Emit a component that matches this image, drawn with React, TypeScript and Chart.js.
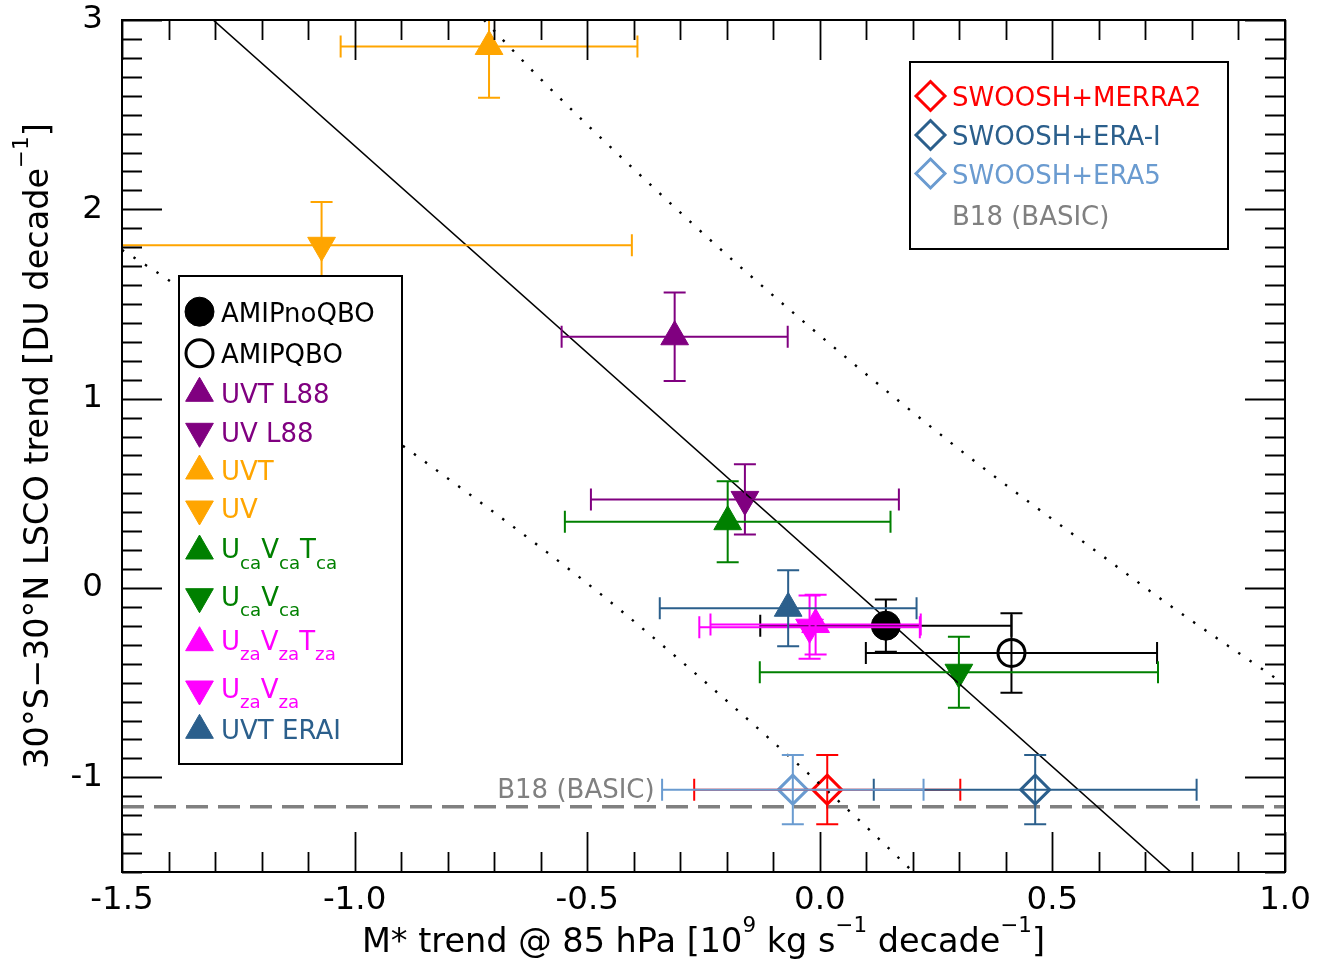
import React, { useEffect, useRef } from 'react';
import { Chart, registerables } from 'chart.js';

Chart.register(...registerables);

const FONT = "'DejaVu Sans', sans-serif";

// ---------------- data ----------------
const seriesNames = [
  'AMIPnoQBO', 'AMIPQBO', 'UVT L88', 'UV L88', 'UVT', 'UV',
  'U_{ca}V_{ca}T_{ca}', 'U_{ca}V_{ca}', 'U_{za}V_{za}T_{za}', 'U_{za}V_{za}', 'UVT ERAI',
  'SWOOSH+MERRA2', 'SWOOSH+ERA-I', 'SWOOSH+ERA5',
];
const xValues = [0.142, 0.412, -0.312, -0.161, -0.711, -1.071, -0.198, 0.299, -0.009, -0.022, -0.068, 0.016, 0.463, -0.058];
const yValues = [-0.199, -0.343, 1.327, 0.468, 2.86, 1.81, 0.35, -0.445, -0.193, -0.207, -0.107, -1.065, -1.065, -1.065];
const xErrors = [0.27, 0.313, 0.243, 0.331, 0.319, 0.667, 0.35, 0.428, 0.226, 0.237, 0.276, 0.286, 0.347, 0.281];
const yErrors = [0.138, 0.21, 0.234, 0.186, 0.27, 0.229, 0.214, 0.188, 0.158, 0.167, 0.201, 0.183, 0.183, 0.183];
const seriesColors = [
  '#000000', '#000000', '#800080', '#800080', '#FFA500', '#FFA500', '#008000', '#008000',
  '#FF00FF', '#FF00FF', '#2B5F8C', '#FF0000', '#2B5F8C', '#6A9BD0',
];
const seriesMarkers = ['filled', 'open', 'up', 'down', 'up', 'down', 'up', 'down', 'up', 'down', 'up', 'diamond', 'diamond', 'diamond'];

// regression line and its dotted confidence curves
const fitX = [-1.304, 0.7545];
const fitY = [3.0, -1.5];
const upperX = [-0.722, -0.596, -0.4, -0.156, 0.286, 0.631, 0.745, 0.985, 1.0];
const upperY = [3.0, 2.678, 2.213, 1.664, 0.759, 0.127, -0.079, -0.485, -0.51];
const lowerX = [-1.5, -1.404, -1.2, -0.899, -0.5875, -0.43, -0.1255, 0.193, 0.2];
const lowerY = [1.786, 1.633, 1.28, 0.756, 0.191, -0.114, -0.758, -1.482, -1.5];

// B18 (BASIC) reference level
const b18Label = 'B18 (BASIC)';
const b18X = [-1.5, 1.0];
const b18Y = [-1.156, -1.156];

const xTickValues = [-1.5, -1.0, -0.5, 0.0, 0.5, 1.0];
const xTickLabels = ['-1.5', '-1.0', '-0.5', '0.0', '0.5', '1.0'];
const yTickValues = [-1, 0, 1, 2, 3];
const yTickLabels = ['-1', '0', '1', '2', '3'];

const xTitle = 'M* trend @ 85 hPa [10^{9} kg s^{\u22121} decade^{\u22121}]';
const yTitle = '30\u00B0S\u221230\u00B0N LSCO trend [DU decade^{\u22121}]';

const legend1Series = [0, 1, 2, 3, 4, 5, 6, 7, 8, 9, 10];
const legend2Series = [11, 12, 13];
const b18Color = '#808080';

// ---------------- helpers ----------------
type Seg = { t: string; k: 'n' | 'sub' | 'sup' };
function parseRich(s: string): Seg[] {
  const out: Seg[] = [];
  const re = /([_^])\{([^}]*)\}/g;
  let last = 0;
  let m: RegExpExecArray | null;
  while ((m = re.exec(s))) {
    if (m.index > last) out.push({ t: s.slice(last, m.index), k: 'n' });
    out.push({ t: m[2], k: m[1] === '_' ? 'sub' : 'sup' });
    last = re.lastIndex;
  }
  if (last < s.length) out.push({ t: s.slice(last), k: 'n' });
  return out;
}
function segFont(k: string, size: number) {
  const s = k === 'n' ? size : k === 'sub' ? size * 0.7 : size * 0.64;
  return `${s}px ${FONT}`;
}
function segOffset(k: string, size: number) {
  return k === 'n' ? 0 : k === 'sub' ? size * 0.4 : -size * 0.6;
}
function richWidth(ctx: CanvasRenderingContext2D, segs: Seg[], size: number) {
  let w = 0;
  for (const s of segs) {
    ctx.font = segFont(s.k, size);
    w += ctx.measureText(s.t).width;
  }
  return w;
}
function drawRich(ctx: CanvasRenderingContext2D, text: string, x: number, y: number, size: number, color: string, align: 'left' | 'center' | 'right') {
  const segs = parseRich(text);
  const w = richWidth(ctx, segs, size);
  let cx = align === 'left' ? x : align === 'center' ? x - w / 2 : x - w;
  ctx.fillStyle = color;
  ctx.textAlign = 'left';
  ctx.textBaseline = 'alphabetic';
  for (const s of segs) {
    ctx.font = segFont(s.k, size);
    ctx.fillText(s.t, cx, y + segOffset(s.k, size));
    cx += ctx.measureText(s.t).width;
  }
}
function drawMarker(ctx: CanvasRenderingContext2D, kind: string, x: number, y: number, color: string) {
  ctx.save();
  ctx.fillStyle = color;
  ctx.strokeStyle = color;
  ctx.beginPath();
  if (kind === 'filled') {
    ctx.lineWidth = 1;
    ctx.arc(x, y, 14.5, 0, Math.PI * 2);
    ctx.fill();
    ctx.stroke();
  } else if (kind === 'open') {
    ctx.lineWidth = 3;
    ctx.arc(x, y, 13.5, 0, Math.PI * 2);
    ctx.stroke();
  } else if (kind === 'up' || kind === 'down') {
    const r = 16;
    const s = kind === 'up' ? 1 : -1;
    ctx.lineWidth = 1;
    ctx.moveTo(x, y - s * r);
    ctx.lineTo(x + 0.866 * r, y + s * 0.5 * r);
    ctx.lineTo(x - 0.866 * r, y + s * 0.5 * r);
    ctx.closePath();
    ctx.fill();
    ctx.stroke();
  } else {
    const r = 14.5;
    ctx.lineWidth = 3;
    ctx.moveTo(x - r, y);
    ctx.lineTo(x, y - r);
    ctx.lineTo(x + r, y);
    ctx.lineTo(x, y + r);
    ctx.closePath();
    ctx.stroke();
  }
  ctx.restore();
}

// ---------------- plugin ----------------
const overlay = {
  id: 'overlay',
  afterDatasetsDraw(chart: any) {
    const { ctx, chartArea: a, scales } = chart;
    const xs = scales.x;
    const ys = scales.y;
    // error bars
    ctx.save();
    ctx.beginPath();
    ctx.rect(a.left, a.top, a.right - a.left, a.bottom - a.top);
    ctx.clip();
    ctx.lineWidth = 2;
    const cap = 11;
    for (let i = 0; i < seriesNames.length; i++) {
      const px = xs.getPixelForValue(xValues[i]);
      const py = ys.getPixelForValue(yValues[i]);
      const x0 = xs.getPixelForValue(xValues[i] - xErrors[i]);
      const x1 = xs.getPixelForValue(xValues[i] + xErrors[i]);
      const y0 = ys.getPixelForValue(yValues[i] + yErrors[i]);
      const y1 = ys.getPixelForValue(yValues[i] - yErrors[i]);
      ctx.strokeStyle = seriesColors[i];
      ctx.beginPath();
      ctx.moveTo(x0, py); ctx.lineTo(x1, py);
      ctx.moveTo(x0, py - cap); ctx.lineTo(x0, py + cap);
      ctx.moveTo(x1, py - cap); ctx.lineTo(x1, py + cap);
      ctx.moveTo(px, y0); ctx.lineTo(px, y1);
      ctx.moveTo(px - cap, y0); ctx.lineTo(px + cap, y0);
      ctx.moveTo(px - cap, y1); ctx.lineTo(px + cap, y1);
      ctx.stroke();
    }
    ctx.restore();

    // B18 label in plot
    drawRich(ctx, b18Label, xs.getPixelForValue(-0.355), ys.getPixelForValue(b18Y[0]) - 9, 26, b18Color, 'right');

    // legend 1
    ctx.save();
    ctx.fillStyle = '#ffffff';
    ctx.fillRect(179, 276, 223, 488);
    ctx.strokeStyle = '#000';
    ctx.lineWidth = 2;
    ctx.strokeRect(179, 276, 223, 488);
    ctx.restore();
    const l1y = [311.7, 353.3, 393.3, 431.3, 471, 509, 551, 596.7, 642.7, 689, 730.3];
    const l1b = [321.7, 362.7, 403.3, 441.7, 480, 518.3, 558.3, 606, 650, 698, 739.3];
    legend1Series.forEach((si, k) => {
      drawMarker(ctx, seriesMarkers[si], 199.5, l1y[k], seriesColors[si]);
      drawRich(ctx, seriesNames[si], 221, l1b[k], 26, seriesColors[si], 'left');
    });

    // legend 2
    ctx.save();
    ctx.fillStyle = '#ffffff';
    ctx.fillRect(910, 62, 318, 187);
    ctx.strokeStyle = '#000';
    ctx.lineWidth = 2;
    ctx.strokeRect(910, 62, 318, 187);
    ctx.restore();
    const l2y = [96, 135, 173.5];
    const l2b = [106, 144.5, 183.5];
    legend2Series.forEach((si, k) => {
      drawMarker(ctx, seriesMarkers[si], 930.5, l2y[k], seriesColors[si]);
      drawRich(ctx, seriesNames[si], 952, l2b[k], 26, seriesColors[si], 'left');
    });
    drawRich(ctx, b18Label, 952, 225, 26, b18Color, 'left');
  },
  afterDraw(chart: any) {
    const { ctx, chartArea: a, scales } = chart;
    const xs = scales.x;
    const ys = scales.y;
    ctx.save();
    ctx.strokeStyle = '#000';
    ctx.lineWidth = 2;
    ctx.strokeRect(a.left, a.top, a.right - a.left, a.bottom - a.top);
    ctx.lineWidth = 1.8;
    ctx.beginPath();
    for (let k = 0; k <= 25; k++) {
      const v = xs.min + k * 0.1;
      const px = Math.round(xs.getPixelForValue(v)) + 0.5;
      const L = k % 5 === 0 ? 40 : 20;
      ctx.moveTo(px, a.bottom); ctx.lineTo(px, a.bottom - L);
      ctx.moveTo(px, a.top); ctx.lineTo(px, a.top + L);
    }
    for (let k = 0; k <= 45; k++) {
      const v = ys.min + k * 0.1;
      const py = Math.round(ys.getPixelForValue(v)) + 0.5;
      const L = (k - 5) % 10 === 0 ? 40 : 20;
      ctx.moveTo(a.left, py); ctx.lineTo(a.left + L, py);
      ctx.moveTo(a.right, py); ctx.lineTo(a.right - L, py);
    }
    ctx.stroke();
    ctx.restore();

    // axis titles
    drawRich(ctx, xTitle, (a.left + a.right) / 2, 952, 33.5, '#000', 'center');
    ctx.save();
    ctx.translate(48, (a.top + a.bottom) / 2);
    ctx.rotate(-Math.PI / 2);
    drawRich(ctx, yTitle, 0, 0, 33.5, '#000', 'center');
    ctx.restore();
  },
};

// ---------------- datasets ----------------
function markerDataset(i: number) {
  const c = seriesColors[i];
  const m = seriesMarkers[i];
  const base: any = {
    label: seriesNames[i],
    data: [{ x: xValues[i], y: yValues[i] }],
    showLine: false,
    order: 2,
  };
  if (m === 'filled') return { ...base, pointStyle: 'circle', pointRadius: 14.5, backgroundColor: c, borderColor: c, borderWidth: 1 };
  if (m === 'open') return { ...base, pointStyle: 'circle', pointRadius: 13.5, backgroundColor: 'rgba(0,0,0,0)', borderColor: c, borderWidth: 3 };
  if (m === 'up') return { ...base, pointStyle: 'triangle', pointRadius: 16, backgroundColor: c, borderColor: c, borderWidth: 1 };
  if (m === 'down') return { ...base, pointStyle: 'triangle', rotation: 180, pointRadius: 16, backgroundColor: c, borderColor: c, borderWidth: 1 };
  return { ...base, pointStyle: 'rectRot', pointRadius: 14.5, backgroundColor: 'rgba(0,0,0,0)', borderColor: c, borderWidth: 3 };
}
const toPts = (xs: number[], ys: number[]) => xs.map((x, i) => ({ x, y: ys[i] }));

export default function App() {
  const ref = useRef<HTMLCanvasElement>(null);
  useEffect(() => {
    document.body.style.margin = '0';
    const datasets: any[] = seriesNames.map((_, i) => markerDataset(i));
    datasets.push({
      label: 'fit', data: toPts(fitX, fitY), showLine: true, pointRadius: 0,
      borderColor: '#000', borderWidth: 1.6, order: 1,
    });
    datasets.push({
      label: 'upper', data: toPts(upperX, upperY), showLine: true, pointRadius: 0,
      borderColor: '#000', borderWidth: 2.4, borderDash: [2.4, 11.3], cubicInterpolationMode: 'monotone', order: 1,
    });
    datasets.push({
      label: 'lower', data: toPts(lowerX, lowerY), showLine: true, pointRadius: 0,
      borderColor: '#000', borderWidth: 2.4, borderDash: [2.4, 11.3], cubicInterpolationMode: 'monotone', order: 1,
    });
    datasets.push({
      label: 'B18', data: toPts(b18X, b18Y), showLine: true, pointRadius: 0,
      borderColor: b18Color, borderWidth: 3.5, borderDash: [22, 10], order: 3,
    });

    const chart = new Chart(ref.current as HTMLCanvasElement, {
      type: 'scatter',
      data: { datasets },
      plugins: [overlay],
      options: {
        animation: false,
        responsive: false,
        devicePixelRatio: 1,
        events: [],
        layout: { padding: { top: 20, right: 45, left: 0, bottom: 0 } },
        plugins: { legend: { display: false }, tooltip: { enabled: false } },
        scales: {
          x: {
            type: 'linear', min: -1.5, max: 1.0, position: 'bottom',
            grid: { display: false, drawTicks: false },
            border: { display: false },
            afterBuildTicks: (s: any) => { s.ticks = xTickValues.map((v) => ({ value: v })); },
            afterFit: (s: any) => { s.height = 93; s.paddingLeft = 0; s.paddingRight = 0; },
            ticks: {
              autoSkip: false, maxRotation: 0, padding: 9, color: '#000',
              font: { family: FONT, size: 32.5 },
              callback: (_v: any, i: number) => xTickLabels[i],
            },
          },
          y: {
            type: 'linear', min: -1.5, max: 3, position: 'left',
            grid: { display: false, drawTicks: false },
            border: { display: false },
            afterBuildTicks: (s: any) => { s.ticks = yTickValues.map((v) => ({ value: v })); },
            afterFit: (s: any) => { s.width = 122; s.paddingTop = 0; s.paddingBottom = 0; },
            ticks: {
              autoSkip: false, padding: 19, color: '#000',
              font: { family: FONT, size: 32.5 },
              callback: (_v: any, i: number) => yTickLabels[i],
            },
          },
        },
      } as any,
    });
    return () => chart.destroy();
  }, []);
  return (
    <div style={{ width: 1330, height: 965 }}>
      <canvas ref={ref} width={1330} height={965} style={{ display: 'block' }} />
    </div>
  );
}
